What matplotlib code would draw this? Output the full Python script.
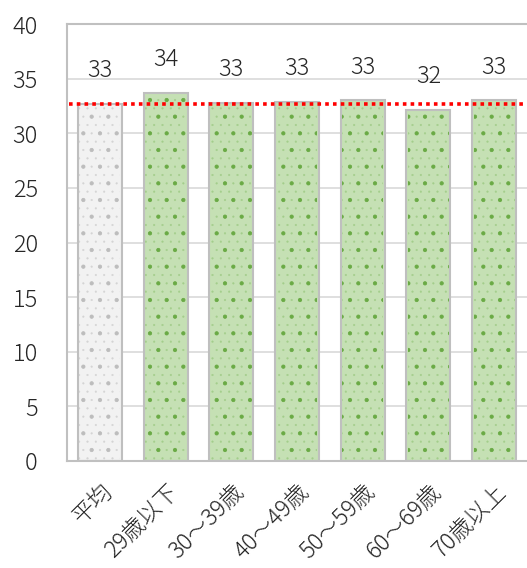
import matplotlib
matplotlib.use("Agg")
import matplotlib.pyplot as plt

plt.rcParams['font.family'] = ['Noto Sans CJK JP', 'DejaVu Sans']
plt.rcParams['font.weight'] = 'light'

categories = ["平均", "29歳以下", "30～39歳", "40～49歳", "50～59歳", "60～69歳", "70歳以上"]
values = [32.7, 33.7, 32.8, 32.9, 33.0, 32.1, 33.0]
labels = ["33", "34", "33", "33", "33", "32", "33"]
average = 32.7
yticks = [0, 5, 10, 15, 20, 25, 30, 35, 40]

fills = ["#f2f2f2"] + ["#c5e0b4"] * 6
dots_light = ["#d4d4d4"] + ["#a3cd8b"] * 6
dots_dark = ["#bdbdbd"] + ["#6aaa45"] * 6

fig = plt.figure(figsize=(5.27, 5.68), dpi=100)
ax = fig.add_axes([67 / 527, 1 - 461 / 568, 1 - 67 / 527, (461 - 24) / 568])

x = list(range(len(categories)))
ax.bar(x, values, width=0.67, color=fills, edgecolor="#bfbfbf", linewidth=1.5, zorder=2)

# dotted fill texture: fine light grid plus coarser darker dots
plt.rcParams['hatch.linewidth'] = 0.3
for xi, v, dc in zip(x, values, dots_light):
    ax.bar(xi, v - 0.3, width=0.62, facecolor="none", edgecolor=dc, hatch="..", linewidth=0, zorder=3)
plt.rcParams['hatch.linewidth'] = 0.6
for xi, v, dc in zip(x, values, dots_dark):
    ax.bar(xi, v - 0.3, width=0.62, facecolor="none", edgecolor=dc, hatch=".", linewidth=0, zorder=3)

for xi, v, lab in zip(x, values, labels):
    ax.annotate(lab, (xi, v), xytext=(0, 15), textcoords="offset points",
                ha="center", va="bottom", fontsize=17, color="#262626")

ax.axhline(average, xmin=0.005, xmax=0.995, color="#ff0000", linewidth=2.6,
           linestyle=(0, (1, 1.15)), zorder=4)

ax.set_xlim(-0.5, 6.5)
ax.set_ylim(0, 40)
ax.set_yticks(yticks)
ax.yaxis.grid(True, color="#d9d9d9", linewidth=1.2, zorder=0)
ax.set_axisbelow(True)
for side in ["left", "top", "bottom"]:
    ax.spines[side].set_color("#c0c0c0")
    ax.spines[side].set_linewidth(1.5)
ax.spines["right"].set_visible(False)
ax.tick_params(axis="y", length=0, pad=21, labelsize=17, labelcolor="#262626")
ax.tick_params(axis="x", length=0, pad=13, labelsize=16.5, labelcolor="#262626")
ax.set_xticks(x)
ax.set_xticklabels(categories, rotation=45, ha="right", rotation_mode="anchor")

fig.savefig("out.png", dpi=100)
